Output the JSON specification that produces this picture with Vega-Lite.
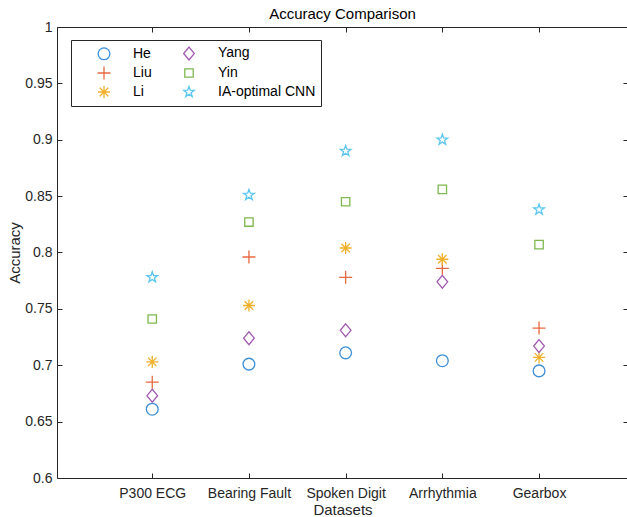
{
  "$schema": "https://vega.github.io/schema/vega-lite/v6.json",
  "width": 571,
  "height": 451,
  "autosize": {"type": "none"},
  "padding": {"left": 57, "top": 27, "right": 0, "bottom": 39},
  "background": "white",
  "title": {"text": "Accuracy Comparison", "fontSize": 15, "fontWeight": "normal", "font": "Liberation Sans", "color": "#000000", "offset": -2, "anchor": "middle"},
  "config": {
    "view": {"stroke": "#262626", "strokeWidth": 1},
    "axis": {"grid": false, "domainColor": "#262626", "tickColor": "#262626", "labelColor": "#262626", "titleColor": "#262626", "labelFont": "Liberation Sans", "titleFont": "Liberation Sans", "labelFontSize": 14, "titleFontSize": 15, "titleFontWeight": "normal"}
  },
  "data": {"values": [
    {"dataset": "P300 ECG", "idx": 1, "method": "He", "acc": 0.661},
    {"dataset": "P300 ECG", "idx": 1, "method": "Liu", "acc": 0.685},
    {"dataset": "P300 ECG", "idx": 1, "method": "Li", "acc": 0.703},
    {"dataset": "P300 ECG", "idx": 1, "method": "Yang", "acc": 0.673},
    {"dataset": "P300 ECG", "idx": 1, "method": "Yin", "acc": 0.741},
    {"dataset": "P300 ECG", "idx": 1, "method": "IA-optimal CNN", "acc": 0.778},
    {"dataset": "Bearing Fault", "idx": 2, "method": "He", "acc": 0.701},
    {"dataset": "Bearing Fault", "idx": 2, "method": "Liu", "acc": 0.796},
    {"dataset": "Bearing Fault", "idx": 2, "method": "Li", "acc": 0.753},
    {"dataset": "Bearing Fault", "idx": 2, "method": "Yang", "acc": 0.724},
    {"dataset": "Bearing Fault", "idx": 2, "method": "Yin", "acc": 0.827},
    {"dataset": "Bearing Fault", "idx": 2, "method": "IA-optimal CNN", "acc": 0.851},
    {"dataset": "Spoken Digit", "idx": 3, "method": "He", "acc": 0.711},
    {"dataset": "Spoken Digit", "idx": 3, "method": "Liu", "acc": 0.778},
    {"dataset": "Spoken Digit", "idx": 3, "method": "Li", "acc": 0.804},
    {"dataset": "Spoken Digit", "idx": 3, "method": "Yang", "acc": 0.731},
    {"dataset": "Spoken Digit", "idx": 3, "method": "Yin", "acc": 0.845},
    {"dataset": "Spoken Digit", "idx": 3, "method": "IA-optimal CNN", "acc": 0.890},
    {"dataset": "Arrhythmia", "idx": 4, "method": "He", "acc": 0.704},
    {"dataset": "Arrhythmia", "idx": 4, "method": "Liu", "acc": 0.786},
    {"dataset": "Arrhythmia", "idx": 4, "method": "Li", "acc": 0.794},
    {"dataset": "Arrhythmia", "idx": 4, "method": "Yang", "acc": 0.774},
    {"dataset": "Arrhythmia", "idx": 4, "method": "Yin", "acc": 0.856},
    {"dataset": "Arrhythmia", "idx": 4, "method": "IA-optimal CNN", "acc": 0.900},
    {"dataset": "Gearbox", "idx": 5, "method": "He", "acc": 0.695},
    {"dataset": "Gearbox", "idx": 5, "method": "Liu", "acc": 0.733},
    {"dataset": "Gearbox", "idx": 5, "method": "Li", "acc": 0.707},
    {"dataset": "Gearbox", "idx": 5, "method": "Yang", "acc": 0.717},
    {"dataset": "Gearbox", "idx": 5, "method": "Yin", "acc": 0.807},
    {"dataset": "Gearbox", "idx": 5, "method": "IA-optimal CNN", "acc": 0.838}
  ]},
  "layer": [
    {
      "mark": {"type": "point", "filled": false, "size": 196, "strokeWidth": 1.3, "opacity": 1},
      "encoding": {
        "x": {"field": "idx", "type": "quantitative", "scale": {"domain": [0.015, 5.92], "nice": false, "zero": false},
          "axis": {"orient": "bottom", "values": [1, 2, 3, 4, 5], "tickSize": -5, "labelPadding": 13, "domain": false,
            "labelExpr": "datum.value == 1 ? 'P300 ECG' : datum.value == 2 ? 'Bearing Fault' : datum.value == 3 ? 'Spoken Digit' : datum.value == 4 ? 'Arrhythmia' : 'Gearbox'",
            "title": "Datasets", "titlePadding": 2}},
        "y": {"field": "acc", "type": "quantitative", "scale": {"domain": [0.6, 1], "nice": false, "zero": false},
          "axis": {"orient": "left", "values": [0.6, 0.65, 0.7, 0.75, 0.8, 0.85, 0.9, 0.95, 1], "format": ".2~f", "tickSize": -5, "labelPadding": 10, "domain": false, "title": "Accuracy", "titlePadding": 2}},
        "color": {"field": "method", "type": "nominal",
          "scale": {"domain": ["He", "Liu", "Li", "Yang", "Yin", "IA-optimal CNN"], "range": ["#3d8fd6", "#e8693f", "#f0b02a", "#a05ab0", "#7fb84e", "#5cc6ef"]},
          "legend": {"title": null, "orient": "none", "legendX": 14, "legendY": 13, "columns": 2, "padding": 5, "symbolOffset": 20, "labelOffset": 21, "columnPadding": 9, "rowPadding": 0, "labelFontSize": 14, "labelFont": "Liberation Sans", "labelColor": "#000000", "strokeColor": "#262626", "fillColor": "white", "symbolStrokeWidth": 1.3, "symbolSize": 196, "cornerRadius": 0}},
        "shape": {"field": "method", "type": "nominal",
          "scale": {"domain": ["He", "Liu", "Li", "Yang", "Yin", "IA-optimal CNN"], "range": [
            "M-0.84,0A0.84,0.84,0,1,0,0.84,0A0.84,0.84,0,1,0,-0.84,0Z",
            "M-0.93,0H0.93M0,-0.93V0.93",
            "M-0.86,0H0.86M0,-0.86V0.86M-0.61,-0.61L0.61,0.61M-0.61,0.61L0.61,-0.61",
            "M0,-0.92L0.76,0L0,0.92L-0.76,0Z",
            "M-0.6,-0.6H0.6V0.6H-0.6Z",
            "M0,-0.8L0.188,-0.259L0.761,-0.247L0.304,0.099L0.47,0.647L0,0.32L-0.47,0.647L-0.304,0.099L-0.761,-0.247L-0.188,-0.259Z"
          ]}}
      }
    },
    {
      "mark": {"type": "point", "opacity": 0},
      "encoding": {
        "x": {"field": "idx", "type": "quantitative", "axis": {"orient": "top", "values": [1, 2, 3, 4, 5], "tickSize": -5, "labels": false, "domain": false, "title": null}},
        "y": {"field": "acc", "type": "quantitative", "axis": {"orient": "right", "values": [0.6, 0.65, 0.7, 0.75, 0.8, 0.85, 0.9, 0.95, 1], "tickSize": -5, "labels": false, "domain": false, "title": null}}
      }
    }
  ],
  "resolve": {"axis": {"x": "independent", "y": "independent"}}
}
